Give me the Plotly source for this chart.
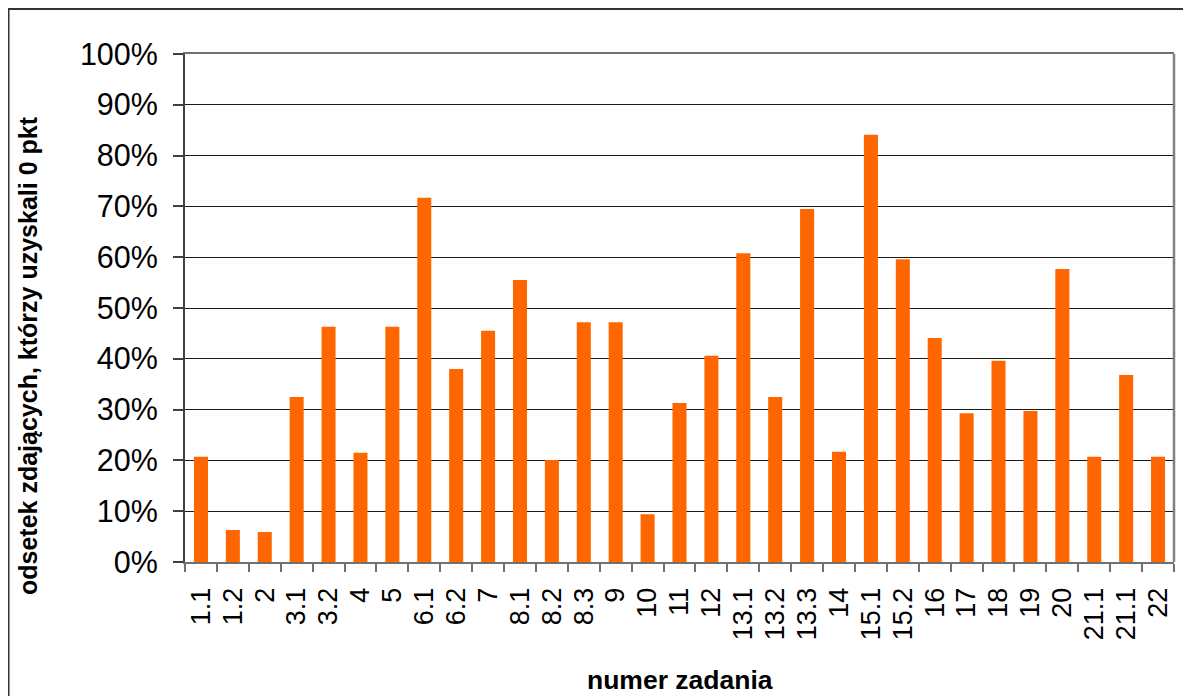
import plotly.graph_objects as go

categories = ["1.1", "1.2", "2", "3.1", "3.2", "4", "5", "6.1", "6.2", "7", "8.1",
              "8.2", "8.3", "9", "10", "11", "12", "13.1", "13.2", "13.3", "14",
              "15.1", "15.2", "16", "17", "18", "19", "20", "21.1", "21.1", "22"]
values = [0.207, 0.063, 0.059, 0.325, 0.463, 0.215, 0.463, 0.717, 0.380, 0.455, 0.555,
          0.201, 0.472, 0.472, 0.094, 0.313, 0.406, 0.608, 0.325, 0.695, 0.217,
          0.841, 0.596, 0.441, 0.293, 0.396, 0.297, 0.577, 0.207, 0.368, 0.207]
y_ticks = [0, 0.1, 0.2, 0.3, 0.4, 0.5, 0.6, 0.7, 0.8, 0.9, 1.0]
y_title = "odsetek zdających, którzy uzyskali 0 pkt"
x_title = "numer zadania"

positions = list(range(len(categories)))
FONT = "Liberation Sans, Arial, sans-serif"

fig = go.Figure()
fig.add_trace(go.Bar(
    x=positions, y=values,
    marker=dict(color="#FF6600", line=dict(width=0)),
    width=0.44,
    hovertext=categories,
))

# figure sits at an 8px page offset (default body margin)
W, H = 1183, 688
L, R, T, B = 177, 17, 46, 134
pw, ph = W - L - R, H - T - B

def px_x(p):
    return (p - L) / pw

def px_y(p):
    return (H - B - p) / ph

fig.update_layout(
    width=W, height=H,
    margin=dict(l=L, r=R, t=T, b=B, autoexpand=False),
    paper_bgcolor="white", plot_bgcolor="white",
    showlegend=False,
    font=dict(family=FONT, color="black"),
    xaxis=dict(
        automargin=False,
        range=[-0.5, len(categories) - 0.5],
        tickmode="array", tickvals=positions, ticktext=categories,
        tickangle=-90, tickfont=dict(size=27, family=FONT),
        ticks="", ticklabelstandoff=13,
        showgrid=False, zeroline=False,
        showline=True, linecolor="#707070", linewidth=2, mirror=True,
        minor=dict(tickmode="array",
                   tickvals=[p - 0.5 for p in positions] + [len(categories) - 0.5],
                   ticks="outside", ticklen=8, tickcolor="#707070", tickwidth=2,
                   showgrid=False),
    ),
    yaxis=dict(
        automargin=False,
        range=[0, 1.0], tickmode="array", tickvals=y_ticks,
        tickformat=".0%", tickfont=dict(size=30.5, family=FONT),
        ticks="outside", ticklen=10, tickcolor="#404040", tickwidth=1.5,
        ticklabelstandoff=9,
        showgrid=True, gridcolor="#1a1a1a", gridwidth=1,
        zeroline=False,
        showline=True, linecolor="#404040", linewidth=2,
    ),
    annotations=[
        dict(text="<b>" + y_title + "</b>", xref="paper", yref="paper",
             x=px_x(20), y=px_y(348), xanchor="center", yanchor="middle",
             textangle=-90, showarrow=False, font=dict(size=25, family=FONT)),
        dict(text="<b>" + x_title + "</b>", xref="paper", yref="paper",
             x=px_x(672), y=px_y(672), xanchor="center", yanchor="middle",
             showarrow=False, font=dict(size=26.5, family=FONT)),
    ],
    shapes=[
        dict(type="line", xref="paper", yref="paper", x0=1, x1=1, y0=0, y1=1,
             line=dict(color="#808080", width=2.5)),
        dict(type="rect", xref="paper", yref="paper",
             x0=px_x(0.5), x1=px_x(1195), y0=px_y(1), y1=px_y(720),
             line=dict(color="#333333", width=2)),
    ],
)

fig.write_html("out.html")
